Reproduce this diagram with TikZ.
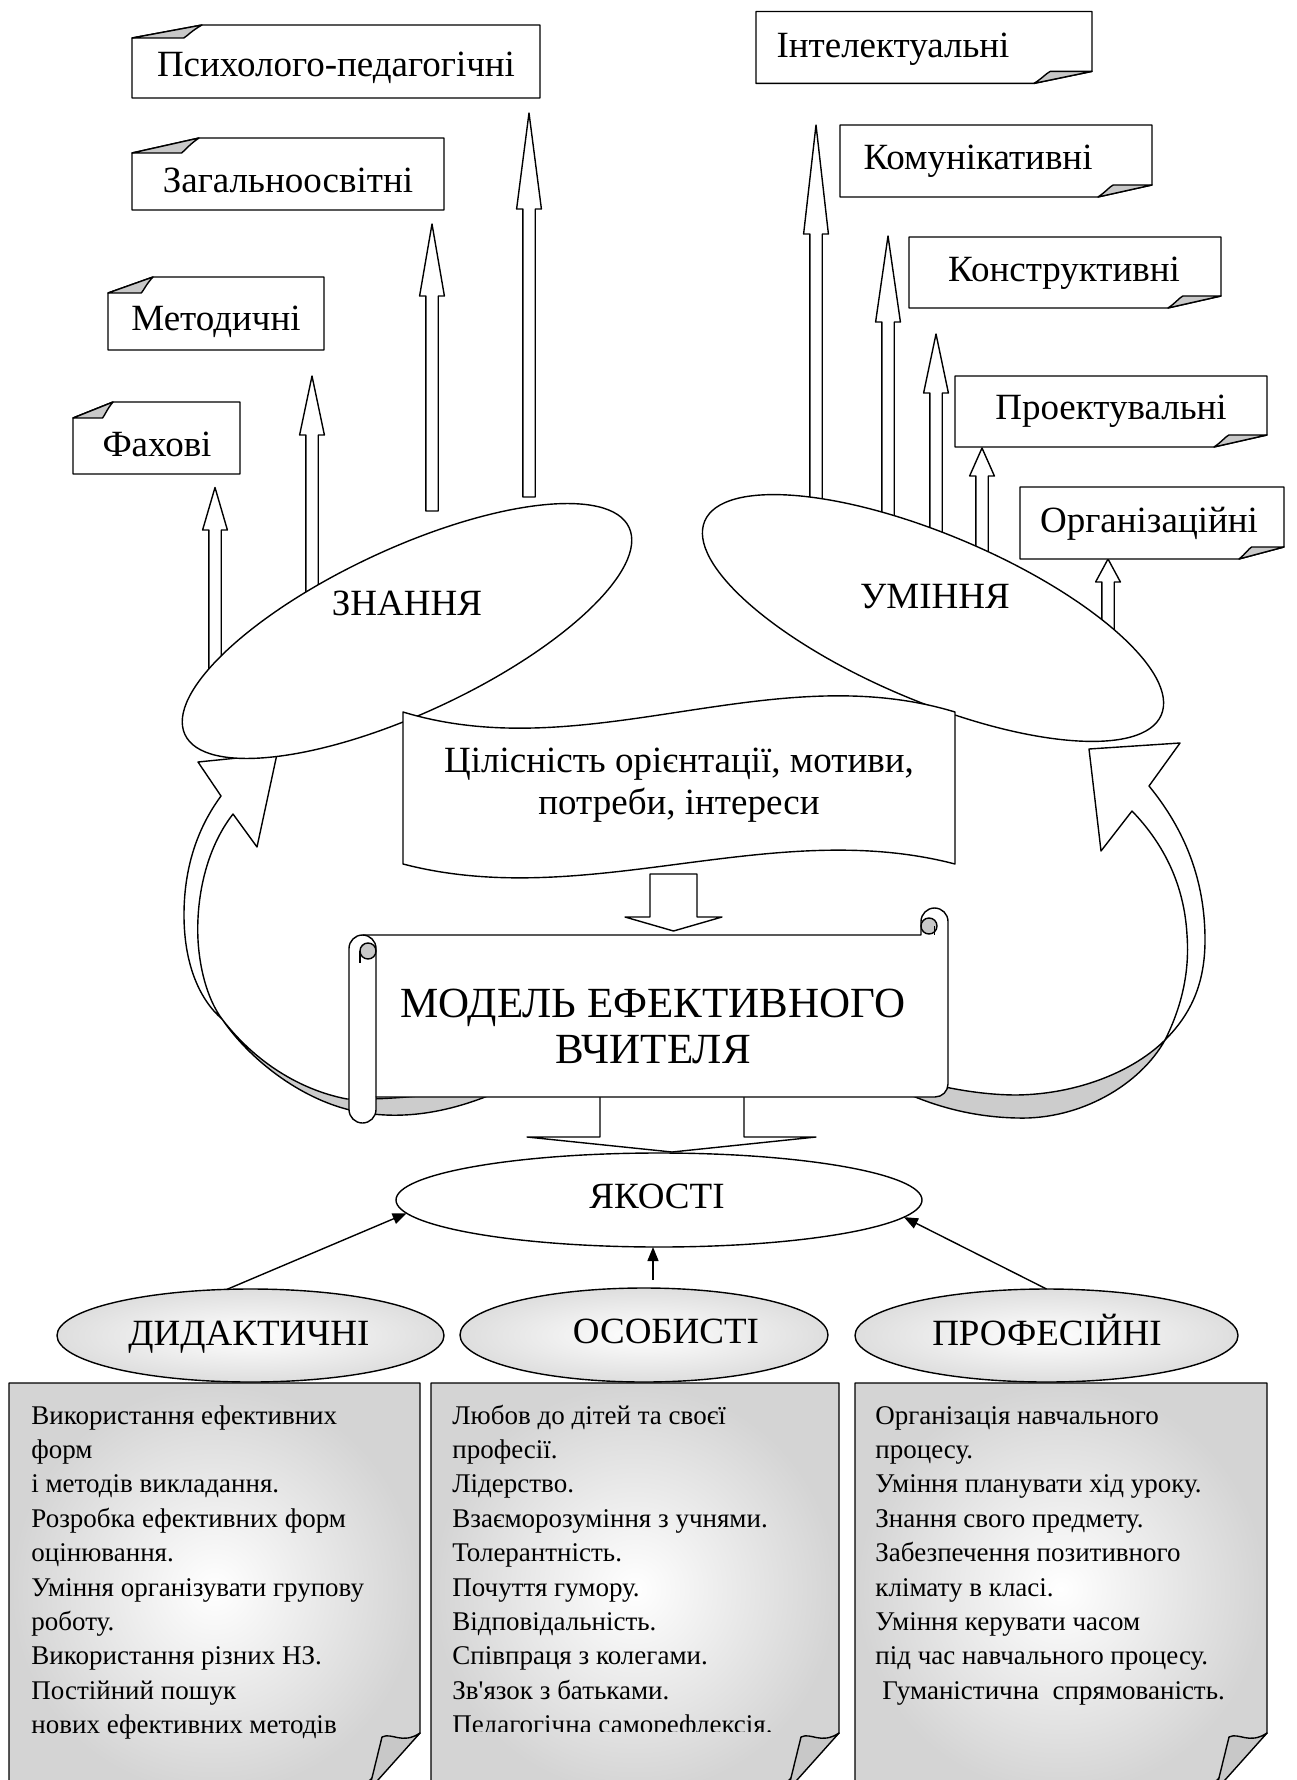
\documentclass[tikz,border=0pt]{standalone}
\usepackage{fontspec}
\setmainfont{Liberation Serif}
\usetikzlibrary{shapes.geometric,arrows.meta}
\definecolor{foldgray}{HTML}{C8C8C8}
\definecolor{bandgray}{HTML}{CCCCCC}
\tikzset{
  ln/.style={line width=0.7pt, line join=round},
  blk/.style={ln, fill=white},
  lbl/.style={inner sep=0pt, font=\fontsize{18.5}{22}\selectfont, anchor=base},
  ttl/.style={inner sep=0pt, font=\fontsize{21.5}{26}\selectfont, anchor=base},
  txt/.style={inner sep=0pt, font=\fontsize{13.5}{17}\selectfont, anchor=base west},
  ell/.style={ln, draw, ellipse, inner sep=0pt, outer sep=0pt, fill=white},
  qell/.style={ln, draw, ellipse, inner sep=0pt, outer sep=0pt, inner color=white, outer color=black!13},
  thinarr/.style={line width=0.7pt, -{Triangle[length=7pt,width=5.5pt]}},
}
% folded top-left corner box: L T R B fw fh
\newcommand{\foldTL}[6]{%
  \filldraw[blk] (#1,{#2+#6}) -- ({#1+#5},#2) -- (#3,#2) -- (#3,#4) -- (#1,#4) -- cycle;
  \filldraw[ln, fill=foldgray] (#1,{#2+#6}) -- ({#1+#5},#2) .. controls ({#1+0.85*#5},{#2+0.45*#6}) and ({#1+0.8*#5},{#2+0.8*#6}) .. ({#1+0.74*#5},{#2+#6}) -- cycle;}
% folded bottom-right corner box: L T R B fw fh
\newcommand{\foldBR}[6]{%
  \filldraw[blk] (#1,#2) -- (#3,#2) -- (#3,{#4-#6}) -- ({#3-#5},#4) -- (#1,#4) -- cycle;
  \filldraw[ln, fill=foldgray] (#3,{#4-#6}) -- ({#3-#5},#4) .. controls ({#3-0.85*#5},{#4-0.45*#6}) and ({#3-0.8*#5},{#4-0.8*#6}) .. ({#3-0.72*#5},{#4-#6}) -- cycle;}
% hollow up arrow: xc tip headbase bottom
\newcommand{\uparr}[4]{%
  \filldraw[blk] ({#1-6.2},#4) -- ({#1-6.2},#3) -- ({#1-12.4},#3) -- (#1,#2) -- ({#1+12.4},#3) -- ({#1+6.2},#3) -- ({#1+6.2},#4) -- cycle;}
% bottom note with folded lower-right corner: L R
\newcommand{\notebox}[2]{%
  \shade[inner color=white, outer color=black!17] (#1,1383) -- (#2,1383) -- (#2,1733) -- ({#2-66},1795) -- (#1,1795) -- cycle;
  \draw[ln] (#1,1383) -- (#2,1383) -- (#2,1733) -- ({#2-66},1795) -- (#1,1795) -- cycle;
  \filldraw[ln, fill=foldgray] (#2,1733) .. controls ({#2-18},1745) and ({#2-28},1732) .. ({#2-38},1737) -- ({#2-51},1790) -- cycle;}
\begin{document}
\begin{tikzpicture}[x=0.5pt,y=-0.5pt]
\useasboundingbox (0,0) rectangle (1296,1780);
\fill[white] (0,0) rectangle (1296,1780);

% ---- curved ribbons (left) ----
\filldraw[ln, fill=bandgray] (222,1019) .. controls (250,1060) and (300,1098) .. (350,1110) .. controls (400,1122) and (450,1112) .. (495,1093) -- (495,1085) .. controls (440,1095) and (390,1100) .. (347,1099) .. controls (300,1090) and (255,1062) .. (222,1019) -- cycle;
\filldraw[ln, fill=white] (277,754) -- (257,847) -- (233,814) .. controls (205,850) and (196,900) .. (198,940) .. controls (200,975) and (210,1003) .. (222,1019) .. controls (200,1000) and (184,965) .. (184,915) .. controls (184,870) and (196,830) .. (221,796) -- (198,762) -- cycle;
% ---- curved ribbons (right) ----
\filldraw[ln, fill=bandgray] (1165,1040) .. controls (1140,1085) and (1080,1120) .. (1017,1118) .. controls (970,1117) and (930,1105) .. (895,1088) -- (900,1075) .. controls (930,1085) and (975,1095) .. (1017,1095) .. controls (1080,1094) and (1135,1070) .. (1165,1040) -- cycle;
\filldraw[ln, fill=white] (1089,749) -- (1180,743) -- (1149,786) .. controls (1185,830) and (1205,880) .. (1205,940) .. controls (1205,985) and (1190,1015) .. (1165,1040) .. controls (1180,1010) and (1190,975) .. (1187,935) .. controls (1184,880) and (1160,840) .. (1132,811) -- (1101,851) -- cycle;

% ---- hollow arrows ----
\uparr{215}{487.5}{530}{700}
\uparr{312}{376}{435}{640}
\uparr{432}{224}{296}{511}
\uparr{529}{113}{209}{497}
\uparr{816}{125}{234}{540}
\uparr{888}{236}{322}{550}
\uparr{936}{334}{393}{570}
\uparr{982}{448}{476}{590}
\uparr{1108}{559}{582}{660}

% ---- ЗНАННЯ / УМІННЯ ----
\node[ell, minimum width=245pt, minimum height=82pt, rotate=25] (znan) at (407,631) {};
\node[lbl] (znanT) at (407,615) {ЗНАННЯ};
\node[ell, minimum width=248pt, minimum height=83pt, rotate=-23] (umin) at (933,618) {};
\node[lbl] (uminT) at (935,608.5) {УМІННЯ};

% ---- label boxes left ----
\foldTL{132}{25}{540}{98}{70}{13}
\node[lbl] (psy) at (336,77) {Психолого-педагогічні};
\foldTL{132}{138}{444}{210}{67}{15}
\node[lbl] (zag) at (288,193) {Загальноосвітні};
\foldTL{108}{277}{324}{350}{45}{16}
\node[lbl] (met) at (216,331) {Методичні};
\foldTL{73}{402}{240}{474}{40}{16}
\node[lbl] (fax) at (157,457) {Фахові};

% ---- label boxes right ----
\foldBR{756}{11.5}{1092}{83.4}{58}{12}
\node[lbl] (int) at (893,57.4) {Інтелектуальні};
\foldBR{840}{125}{1152}{197}{54}{12}
\node[lbl] (kom) at (978,170) {Комунікативні};
\foldBR{909}{237}{1221}{308}{53}{12}
\node[lbl] (kon) at (1064,282) {Конструктивні};
\foldBR{955}{376}{1267}{447}{53}{12}
\node[lbl] (pro) at (1111,420) {Проектувальні};
\foldBR{1020}{487}{1284}{559}{45}{12}
\node[lbl] (org) at (1149,532) {Організаційні};

% ---- banner arrow ----
\filldraw[blk] (650,874) -- (697,874) -- (697,917) -- (722,917) -- (673.5,931) -- (625,917) -- (650,917) -- cycle;
% ---- wave banner ----
\filldraw[blk] (403,712) .. controls (587,768) and (771,656) .. (955,712) -- (955,864) .. controls (771,816) and (587,912) .. (403,864) -- cycle;
\node[lbl] (val1) at (679,772) {Цілісність орієнтації, мотиви,};
\node[lbl] (val2) at (679,814) {потреби, інтереси};

% ---- scroll ----
\filldraw[blk] (672,1152) -- (527,1137) -- (600,1137) -- (600,1095) -- (744,1095) -- (744,1137) -- (816,1137) -- cycle;
\filldraw[ln, fill=white] (349,1109.5) -- (349,948.5) arc[start angle=180, end angle=270, radius=13.5] -- (921,935) -- (921,921.5) arc[start angle=180, end angle=360, radius=13.5] -- (948,1084) arc[start angle=0, end angle=90, radius=13] -- (376,1097) -- (376,1109.5) arc[start angle=0, end angle=180, radius=13.5] -- cycle;
\draw[ln] (362.5,935) arc[start angle=270, end angle=360, radius=13.5] -- (376,1097);
\filldraw[ln, fill=foldgray] (368,951) circle[radius=8];
\draw[ln] (360,951) -- (360,963);
\filldraw[ln, fill=foldgray] (929,926) circle[radius=8];
\draw[ln] (934.5,926) -- (934.5,935);
\node[ttl] (title1) at (653,1017) {МОДЕЛЬ ЕФЕКТИВНОГО};
\node[ttl] (title2) at (653,1063) {ВЧИТЕЛЯ};

% ---- ЯКОСТІ ----
\node[ell, minimum width=263pt, minimum height=47pt] (yak) at (659,1200) {};
\node[lbl] (yakT) at (657,1208) {ЯКОСТІ};

\node[qell, minimum width=193.5pt, minimum height=46.5pt] (did) at (250.5,1335.5) {};
\node[lbl] (didT) at (249,1345) {ДИДАКТИЧНІ};
\node[qell, minimum width=184pt, minimum height=47pt] (osob) at (644,1335) {};
\node[lbl] (osobT) at (666,1343) {ОСОБИСТІ};
\node[qell, minimum width=191.5pt, minimum height=46.5pt] (prof) at (1046.5,1335.5) {};
\node[lbl] (profT) at (1047,1345) {ПРОФЕСІЙНІ};

\coordinate (osobtop) at (653,1280);
\draw[thinarr] (did.117) -- (yak.183);
\draw[thinarr] (osobtop) -- (osobtop |- yak.south);
\draw[thinarr] (prof.north) -- (yak.-4.5);

% ---- notes ----
\notebox{9}{420}
\notebox{431}{839}
\notebox{855}{1267}

\foreach \ltxt [count=\i] in {{Використання ефективних},{форм},{і методів викладання.},{Розробка ефективних форм},{оцінювання.},{Уміння організувати групову},{роботу.},{Використання різних НЗ.},{Постійний пошук},{нових ефективних методів}}
  {\node[txt] (da\i) at (31,{1424+(\i-1)*34.4}) {\ltxt};}

\begin{scope}
\clip (431,1383) rectangle (839,1731);
\foreach \ltxt [count=\i] in {{Любов до дітей та своєї},{професії.},{Лідерство.},{Взаєморозуміння з учнями.},{Толерантність.},{Почуття гумору.},{Відповідальність.},{Співпраця з колегами.},{Зв\textquotesingle язок з батьками.},{Педагогічна саморефлексія.}}
  {\node[txt] (db\i) at (452,{1424+(\i-1)*34.4}) {\ltxt};}
\end{scope}

\foreach \ltxt [count=\i] in {{Організація навчального},{процесу.},{Уміння планувати хід уроку.},{Знання свого предмету.},{Забезпечення позитивного},{клімату в класі.},{Уміння керувати часом},{під час навчального процесу.}}
  {\node[txt] (dc\i) at (875,{1424+(\i-1)*34.4}) {\ltxt};}
\node[txt] (dc9) at (882,{1424+8*34.4}) {Гуманістична\ \ спрямованість.};
\end{tikzpicture}
\end{document}
